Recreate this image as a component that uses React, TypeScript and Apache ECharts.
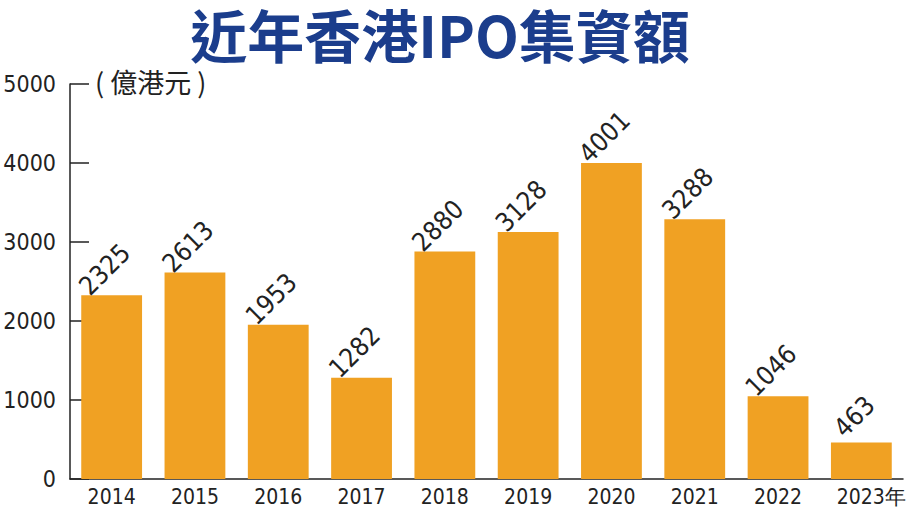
import React, { useEffect, useRef } from "react";
import * as echarts from "echarts";

const categories = ["2014", "2015", "2016", "2017", "2018", "2019", "2020", "2021", "2022", "2023"];
const values = [2325, 2613, 1953, 1282, 2880, 3128, 4001, 3288, 1046, 463];
const title = "近年香港IPO集資額";
const unitText = "( 億港元 )";

const NARROW = "'DejaVu Sans Condensed', 'Liberation Sans', sans-serif";

export default function App() {
  const ref = useRef<HTMLDivElement>(null);
  useEffect(() => {
    if (!ref.current) return;
    const chart = echarts.init(ref.current, null, { renderer: "svg" });
    chart.setOption({
      animation: false,
      backgroundColor: "#ffffff",
      title: {
        text: title,
        left: 440,
        textAlign: "center",
        top: 4,
        padding: 0,
        textStyle: {
          fontFamily: "'Noto Sans CJK TC', 'Noto Sans', sans-serif",
          fontWeight: "bold",
          fontSize: 57,
          lineHeight: 57,
          color: "#1b3d8c",
        },
      },
      graphic: [
        {
          type: "text",
          left: 95,
          top: 68,
          style: {
            text: unitText,
            fontFamily: "'Noto Sans CJK TC', sans-serif",
            fontSize: 27,
            fill: "#222",
          },
        },
      ],
      grid: { left: 70, right: 4, top: 84, bottom: 31, containLabel: false, outerBoundsMode: "none" },
      xAxis: {
        type: "category",
        data: categories,
        axisLine: { lineStyle: { color: "#222", width: 1.5 } },
        axisTick: { inside: true, length: 9, lineStyle: { color: "#222" } },
        axisLabel: {
          interval: 0,
          fontFamily: NARROW,
          fontSize: 21,
          color: "#222",
          margin: 7,
          formatter: (v: string) => (v === "2023" ? "{a|2023年}" : v),
          rich: { a: { fontFamily: NARROW, fontSize: 21, color: "#222", padding: [0, 0, 0, 20] } },
        },
      },
      yAxis: {
        type: "value",
        min: 0,
        max: 5000,
        interval: 1000,
        splitLine: { show: false },
        axisLine: { show: true, lineStyle: { color: "#222", width: 1.5 } },
        axisTick: { show: true, inside: true, length: 19, lineStyle: { color: "#222", width: 1.5 } },
        axisLabel: {
          fontFamily: NARROW,
          fontSize: 23,
          color: "#222",
          margin: 14,
          formatter: (v: number) => String(v),
        },
      },
      series: [
        {
          type: "bar",
          data: values,
          barCategoryGap: "27%",
          itemStyle: { color: "#f0a123" },
          label: {
            show: true,
            position: "top",
            distance: 33,
            offset: [-10, 0],
            rotate: 45,
            align: "center",
            verticalAlign: "middle",
            fontFamily: NARROW,
            fontSize: 26,
            color: "#222",
          },
        },
      ],
    });
    return () => chart.dispose();
  }, []);
  return <div ref={ref} style={{ width: 907, height: 510, position: "absolute", left: 0, top: 0 }} />;
}
